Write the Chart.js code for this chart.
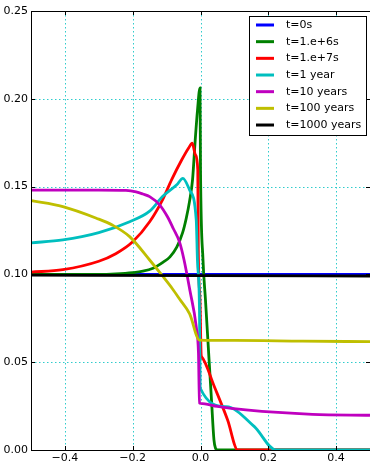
<!DOCTYPE html>
<html>
<head>
<meta charset="utf-8">
<script src="https://cdn.jsdelivr.net/npm/chart.js@4"></script>
<style>
  html, body { margin: 0; padding: 0; background: #fff; }
  canvas { display: block; }
</style>
</head>
<body>
<canvas id="profileChart" width="370" height="462"></canvas>
<script>
// tick positions and labels
const xTicks = [-0.4, -0.2, 0.0, 0.2, 0.4];
const xTickLabels = ["\u22120.4", "\u22120.2", "0.0", "0.2", "0.4"];
const yTicks = [0, 0.05, 0.10, 0.15, 0.20, 0.25];
const yTickLabels = ["0.00", "0.05", "0.10", "0.15", "0.20", "0.25"];

const seriesLabels = ["t=0s", "t=1.e+6s", "t=1.e+7s", "t=1 year", "t=10 years", "t=100 years", "t=1000 years"];
const seriesColors = ["#0000ff", "#008000", "#ff0000", "#00bfbf", "#bf00bf", "#bfbf00", "#000000"];

// t=0s
const x0 = [-0.5, 0.5];
const y0 = [0.1, 0.1];

// t=1.e+6s
const x1 = [-0.5, -0.3, -0.25, -0.2, -0.17, -0.14, -0.11, -0.09, -0.07, -0.053, -0.042, -0.032, -0.0235, -0.0156, -0.0088, -0.0015, 0.0, 0.0074, 0.0147, 0.0235, 0.0324, 0.0397, 0.0441, 0.05, 0.5];
const y1 = [0.1, 0.1, 0.1003, 0.101, 0.1018, 0.1035, 0.107, 0.110, 0.1155, 0.1236, 0.132, 0.142, 0.1538, 0.1765, 0.1936, 0.2062, 0.1595, 0.1082, 0.0854, 0.057, 0.0285, 0.0057, 0.0011, 0, 0];

// t=1.e+7s
const x2 = [-0.5, -0.406, -0.3, -0.25, -0.2, -0.15, -0.112, -0.085, -0.056, -0.035, -0.0244, -0.0147, -0.008, -0.0065, -0.0015, 0.002, 0.0038, 0.041, 0.080, 0.11, 0.5];
const y2 = [0.1013, 0.1027, 0.1075, 0.1118, 0.1186, 0.130, 0.1425, 0.154, 0.165, 0.172, 0.1747, 0.168, 0.1595, 0.1139, 0.0854, 0.0541, 0.053, 0.036, 0.0171, 0, 0];

// t=1 year
const x3 = [-0.5, -0.406, -0.3, -0.209, -0.15, -0.112, -0.07, -0.052, -0.032, -0.0126, -0.009, -0.003, -0.001, 0.0756, 0.159, 0.2226, 0.5];
const y3 = [0.118, 0.1196, 0.1238, 0.130, 0.136, 0.1443, 0.151, 0.1547, 0.148, 0.131, 0.108, 0.08, 0.0353, 0.0247, 0.0133, 0, 0];

// t=10 years
const x4 = [-0.5, -0.3, -0.22, -0.19, -0.17, -0.15, -0.12, -0.097, -0.08, -0.062, -0.0485, -0.0309, -0.0126, -0.006, -0.003, 0.0, 0.05, 0.134, 0.33, 0.5];
const y4 = [0.148, 0.148, 0.1478, 0.147, 0.1458, 0.1443, 0.1395, 0.1327, 0.126, 0.1185, 0.1082, 0.0905, 0.0702, 0.0552, 0.0268, 0.0266, 0.0248, 0.0228, 0.0203, 0.0198];

// t=100 years
const x5 = [-0.5, -0.406, -0.307, -0.259, -0.209, -0.15, -0.112, -0.0824, -0.0618, -0.032, -0.003, 0.1, 0.3, 0.5];
const y5 = [0.142, 0.1386, 0.132, 0.128, 0.1215, 0.1082, 0.0991, 0.0917, 0.086, 0.0775, 0.0626, 0.0624, 0.062, 0.0617];

// t=1000 years
const x6 = [-0.5, 0.0, 0.5];
const y6 = [0.0996, 0.0993, 0.0991];

const seriesX = [x0, x1, x2, x3, x4, x5, x6];
const seriesY = [y0, y1, y2, y3, y4, y5, y6];

const FONT = "DejaVu Sans";

function toPoints(xs, ys) {
  return xs.map((x, i) => ({ x: x, y: ys[i] }));
}

const datasets = seriesLabels.map((label, i) => ({
  label: label,
  data: toPoints(seriesX[i], seriesY[i]),
  borderColor: seriesColors[i],
  backgroundColor: seriesColors[i],
  borderWidth: 2.8,
  pointRadius: 0,
  fill: false,
  cubicInterpolationMode: "monotone",
  order: seriesLabels.length - 1 - i
}));

// dotted grid, frame and inward ticks like matplotlib
const framePlugin = {
  id: "frame",
  beforeDatasetsDraw(chart) {
    const { ctx, chartArea: a, scales } = chart;
    ctx.save();
    ctx.strokeStyle = "#30cccc";
    ctx.lineWidth = 1;
    ctx.setLineDash([1.5, 2.5]);
    xTicks.forEach(v => {
      const px = Math.round(scales.x.getPixelForValue(v)) + 0.5;
      ctx.beginPath(); ctx.moveTo(px, a.top); ctx.lineTo(px, a.bottom); ctx.stroke();
    });
    yTicks.slice(1, -1).forEach(v => {
      const py = Math.round(scales.y.getPixelForValue(v)) + 0.5;
      ctx.beginPath(); ctx.moveTo(a.left, py); ctx.lineTo(a.right, py); ctx.stroke();
    });
    ctx.restore();
  },
  afterDatasetsDraw(chart) {
    const { ctx, chartArea: a, scales } = chart;
    ctx.save();
    ctx.strokeStyle = "#000";
    ctx.lineWidth = 1;
    ctx.strokeRect(Math.round(a.left) + 0.5, Math.round(a.top) + 0.5,
      Math.round(a.right - a.left), Math.round(a.bottom - a.top));
    const len = 4;
    xTicks.forEach(v => {
      const px = Math.round(scales.x.getPixelForValue(v)) + 0.5;
      ctx.beginPath();
      ctx.moveTo(px, a.bottom); ctx.lineTo(px, a.bottom - len);
      ctx.moveTo(px, a.top); ctx.lineTo(px, a.top + len);
      ctx.stroke();
    });
    yTicks.forEach(v => {
      const py = Math.round(scales.y.getPixelForValue(v)) + 0.5;
      ctx.beginPath();
      ctx.moveTo(a.left, py); ctx.lineTo(a.left + len, py);
      ctx.moveTo(a.right, py); ctx.lineTo(a.right - len, py);
      ctx.stroke();
    });
    ctx.restore();
  },
  afterDraw(chart) {
    const { ctx } = chart;
    const bx = 249.5, by = 16.5, bw = 117, bh = 119;
    ctx.save();
    ctx.fillStyle = "#fff";
    ctx.fillRect(bx, by, bw, bh);
    ctx.strokeStyle = "#000";
    ctx.lineWidth = 1;
    ctx.strokeRect(bx, by, bw, bh);
    ctx.font = "11px '" + FONT + "'";
    ctx.textBaseline = "middle";
    ctx.fillStyle = "#000";
    chart.data.datasets.forEach((ds, i) => {
      const yy = 25 + i * 16.67;
      ctx.strokeStyle = ds.borderColor;
      ctx.lineWidth = 3;
      ctx.beginPath(); ctx.moveTo(256, yy); ctx.lineTo(274, yy); ctx.stroke();
      ctx.fillText(ds.label, 286, yy);
    });
    ctx.restore();
  }
};

new Chart(document.getElementById("profileChart").getContext("2d"), {
  type: "line",
  data: { datasets: datasets },
  options: {
    responsive: false,
    animation: false,
    layout: { padding: { top: 11, right: 0, bottom: 0, left: 0 } },
    plugins: { legend: { display: false }, tooltip: { enabled: false } },
    scales: {
      x: {
        type: "linear",
        min: -0.5,
        max: 0.5,
        afterBuildTicks: s => { s.ticks = xTicks.map(v => ({ value: v })); },
        afterFit: s => { s.height = 12; },
        grid: { display: false, drawTicks: false },
        border: { display: false },
        ticks: {
          padding: 2,
          color: "#000",
          font: { family: FONT, size: 11 },
          maxRotation: 0,
          callback: v => xTickLabels[xTicks.findIndex(t => Math.abs(t - v) < 1e-9)]
        }
      },
      y: {
        type: "linear",
        min: 0,
        max: 0.25,
        afterBuildTicks: s => { s.ticks = yTicks.map(v => ({ value: v })); },
        afterFit: s => { s.width = 31; },
        grid: { display: false, drawTicks: false },
        border: { display: false },
        ticks: {
          padding: 3,
          color: "#000",
          font: { family: FONT, size: 11 },
          callback: v => yTickLabels[yTicks.findIndex(t => Math.abs(t - v) < 1e-9)]
        }
      }
    }
  },
  plugins: [framePlugin]
});
</script>
</body>
</html>
